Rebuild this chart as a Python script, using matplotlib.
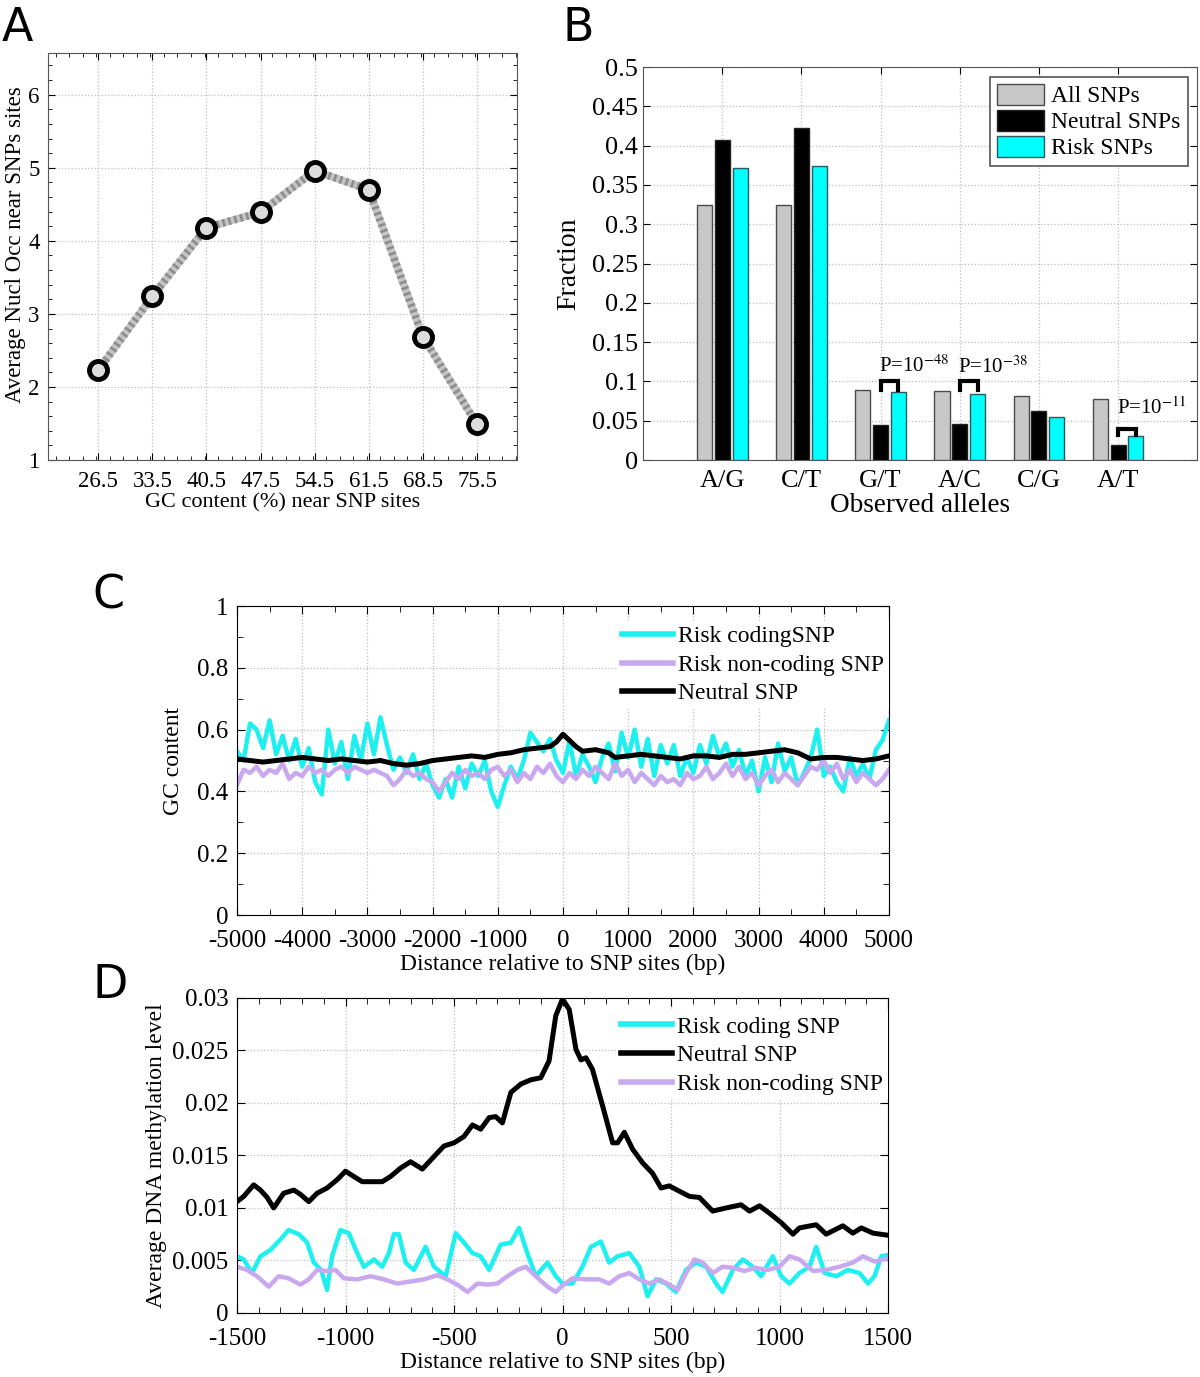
import numpy as np
import matplotlib
matplotlib.use('Agg')
import matplotlib.pyplot as plt
from matplotlib.ticker import MultipleLocator

plt.rcParams['font.family'] = 'serif'
plt.rcParams['font.serif'] = ['Liberation Serif', 'DejaVu Serif']
plt.rcParams['mathtext.fontset'] = 'stix'
plt.rcParams['axes.unicode_minus'] = False
plt.rcParams['xtick.direction'] = 'in'
plt.rcParams['ytick.direction'] = 'in'
plt.rcParams['xtick.top'] = True
plt.rcParams['ytick.right'] = True

# ---------------- panel A ----------------
gc_bins = [26.5, 33.5, 40.5, 47.5, 54.5, 61.5, 68.5, 75.5]
nucl_occ = [2.23, 3.24, 4.18, 4.39, 4.96, 4.70, 2.69, 1.49]

# ---------------- panel B ----------------
alleles = ['A/G', 'C/T', 'G/T', 'A/C', 'C/G', 'A/T']
frac_all = [0.325, 0.325, 0.089, 0.088, 0.081, 0.078]
frac_neutral = [0.407, 0.423, 0.045, 0.046, 0.062, 0.019]
frac_risk = [0.371, 0.374, 0.087, 0.084, 0.055, 0.031]
pvals = ['P=10$^{-48}$', 'P=10$^{-38}$', 'P=10$^{-11}$']

# ---------------- panel C ----------------
c_x = list(range(-5000, 5001, 100))
c_risk_coding = [0.53, 0.50, 0.62, 0.60, 0.54, 0.63, 0.52, 0.58, 0.50, 0.57,
                 0.48, 0.54, 0.43, 0.39, 0.60, 0.49, 0.56, 0.44, 0.58, 0.50,
                 0.62, 0.52, 0.64, 0.55, 0.47, 0.51, 0.46, 0.52, 0.44, 0.49,
                 0.42, 0.38, 0.44, 0.38, 0.48, 0.41, 0.49, 0.45, 0.50, 0.40,
                 0.35, 0.42, 0.48, 0.44, 0.50, 0.59, 0.56, 0.53, 0.57, 0.50,
                 0.46, 0.565, 0.45, 0.52, 0.48, 0.43, 0.51, 0.555, 0.465, 0.59,
                 0.51, 0.60, 0.48, 0.57, 0.45, 0.55, 0.49, 0.55, 0.45, 0.51,
                 0.46, 0.55, 0.49, 0.58, 0.51, 0.555, 0.48, 0.535, 0.45, 0.50,
                 0.40, 0.51, 0.43, 0.555, 0.465, 0.51, 0.42, 0.46, 0.51, 0.60,
                 0.45, 0.48, 0.43, 0.40, 0.51, 0.45, 0.49, 0.44, 0.535, 0.565,
                 0.63]
c_risk_noncoding = [0.42, 0.47, 0.46, 0.48, 0.45, 0.47, 0.46, 0.49, 0.44, 0.46,
                    0.45, 0.48, 0.46, 0.47, 0.45, 0.47, 0.48, 0.46, 0.48, 0.47,
                    0.46, 0.47, 0.46, 0.45, 0.42, 0.44, 0.47, 0.45, 0.46, 0.44,
                    0.43, 0.40, 0.43, 0.46, 0.44, 0.47, 0.45, 0.46, 0.44, 0.47,
                    0.48, 0.45, 0.47, 0.43, 0.46, 0.44, 0.48, 0.46, 0.49, 0.45,
                    0.43, 0.46, 0.44, 0.47, 0.45, 0.48, 0.46, 0.44, 0.49, 0.45,
                    0.47, 0.43, 0.46, 0.44, 0.42, 0.45, 0.43, 0.44, 0.42, 0.46,
                    0.44, 0.45, 0.48, 0.44, 0.46, 0.49, 0.45, 0.48, 0.44, 0.46,
                    0.42, 0.45, 0.47, 0.43, 0.46, 0.44, 0.42, 0.45, 0.48, 0.47,
                    0.50, 0.46, 0.49, 0.44, 0.47, 0.43, 0.46, 0.44, 0.42, 0.44,
                    0.47]
c_neutral_x = [-5000, -4800, -4600, -4400, -4200, -4000, -3800, -3600, -3400,
               -3200, -3000, -2800, -2600, -2400, -2200, -2000, -1800, -1600,
               -1400, -1200, -1000, -800, -600, -400, -200, -100, 0, 100, 200,
               300, 500, 700, 800, 1000, 1200, 1400, 1600, 1800, 2000, 2200,
               2400, 2600, 2800, 3000, 3200, 3400, 3600, 3800, 4000, 4200,
               4400, 4600, 4800, 5000]
c_neutral = [0.505, 0.50, 0.495, 0.50, 0.505, 0.51, 0.505, 0.50, 0.505,
             0.50, 0.495, 0.50, 0.49, 0.485, 0.49, 0.50, 0.505, 0.51,
             0.515, 0.51, 0.52, 0.525, 0.535, 0.54, 0.545, 0.56, 0.585, 0.565, 0.545,
             0.53, 0.535, 0.525, 0.51, 0.515, 0.52, 0.515, 0.51, 0.505, 0.515, 0.515,
             0.51, 0.52, 0.52, 0.525, 0.53, 0.535, 0.525, 0.505, 0.51, 0.51,
             0.505, 0.50, 0.505, 0.515]

# ---------------- panel D ----------------
d_neutral_x = [-1500, -1469, -1423, -1392, -1361, -1331, -1285, -1238, -1208,
               -1169, -1131, -1085, -1038, -1000, -962, -923, -869, -831, -792,
               -746, -700, -646, -592, -546, -500, -454, -415, -377, -338, -308,
               -277, -238, -192, -146, -100, -62, -31, 0, 31, 62, 85, 108, 138,
               185, 231, 254, 285, 323, 369, 415, 454, 492, 538, 585, 631, 692,
               754, 823, 862, 908, 954, 1008, 1062, 1092, 1169, 1215, 1292, 1338,
               1377, 1431, 1500]
d_neutral = [0.0106, 0.0111, 0.0122, 0.0117, 0.0110, 0.0100, 0.0114, 0.0117, 0.0113,
             0.0106, 0.0114, 0.0119, 0.0127, 0.0135, 0.0130, 0.0125, 0.0125, 0.0125, 0.0130,
             0.0138, 0.0144, 0.0137, 0.0149, 0.0159, 0.0162, 0.0168, 0.0179, 0.0175, 0.0186, 0.0187,
             0.0181, 0.0210, 0.0218, 0.0222, 0.0224, 0.0240, 0.0283, 0.0299, 0.0289, 0.0251, 0.0241, 0.0243, 0.0232,
             0.0197, 0.0162, 0.0162, 0.0172, 0.0156, 0.0143, 0.0133, 0.0119, 0.0121, 0.0116, 0.0111, 0.0110, 0.0097,
             0.0100, 0.0103, 0.0097, 0.0102, 0.0095, 0.0086, 0.0075, 0.0081, 0.0084, 0.0075, 0.0083, 0.0076,
             0.0081, 0.0076, 0.0074]
d_coding_x = [-1500, -1469, -1431, -1392, -1346, -1300, -1262, -1215, -1177, -1146,
              -1112, -1085, -1062, -1023, -985, -946, -915, -869, -831, -800, -777,
              -754, -723, -685, -631, -592, -538, -492, -454, -415, -377, -338, -285,
              -238, -200, -162, -123, -69, -31, 0, 46, 92, 131, 177, 215, 254, 308,
              354, 392, 431, 477, 523, 569, 615, 662, 708, 738, 785, 831, 877, 915,
              969, 1008, 1046, 1092, 1138, 1169, 1208, 1262, 1315, 1369, 1408, 1438,
              1469, 1500]
d_coding = [0.0054, 0.0051, 0.0038, 0.0054, 0.0060, 0.0070, 0.0079, 0.0075, 0.0067, 0.0048,
            0.0041, 0.0022, 0.0054, 0.0079, 0.0076, 0.0057, 0.0044, 0.0051, 0.0044, 0.0057, 0.0075,
            0.0075, 0.0048, 0.0041, 0.0063, 0.0044, 0.0035, 0.0076, 0.0067, 0.0057, 0.0054, 0.0041, 0.0065,
            0.0067, 0.0081, 0.0057, 0.0035, 0.0048, 0.0035, 0.0028, 0.0028, 0.0044, 0.0063, 0.0068, 0.0048, 0.0054, 0.0057,
            0.0044, 0.0016, 0.0032, 0.0028, 0.0020, 0.0041, 0.0048, 0.0044, 0.0028, 0.0020, 0.0041, 0.0051, 0.0044, 0.0035,
            0.0054, 0.0035, 0.0028, 0.0038, 0.0044, 0.0063, 0.0038, 0.0035, 0.0041, 0.0038, 0.0028, 0.0035,
            0.0054, 0.0055]
d_noncoding_x = [-1500, -1454, -1408, -1354, -1308, -1262, -1208, -1169, -1131, -1092,
                 -1046, -1008, -946, -885, -823, -762, -700, -638, -577, -531, -485,
                 -438, -392, -346, -300, -254, -208, -169, -123, -69, -31, 0, 46, 108,
                 169, 215, 262, 308, 354, 400, 446, 492, 531, 569, 608, 646, 692, 738,
                 785, 838, 892, 946, 1000, 1046, 1092, 1154, 1215, 1277, 1338, 1385,
                 1438, 1500]
d_noncoding = [0.0044, 0.0041, 0.0035, 0.0025, 0.0035, 0.0033, 0.0027, 0.0032, 0.0041, 0.0040,
               0.0041, 0.0033, 0.0032, 0.0035, 0.0032, 0.0028, 0.0030, 0.0032, 0.0036, 0.0032, 0.0027,
               0.0020, 0.0028, 0.0027, 0.0028, 0.0035, 0.0041, 0.0044, 0.0035, 0.0025, 0.0020, 0.0026, 0.0033, 0.0032,
               0.0032, 0.0028, 0.0035, 0.0038, 0.0032, 0.0028, 0.0032, 0.0027, 0.0022, 0.0038, 0.0051, 0.0048, 0.0038, 0.0044,
               0.0043, 0.0040, 0.0043, 0.0041, 0.0044, 0.0054, 0.0051, 0.0040, 0.0041, 0.0044, 0.0048, 0.0054,
               0.0049, 0.0052]

CYAN = '#1ef0f0'
LAV = '#c8a8ee'
GRID = dict(color='#bdbdbd', linestyle=':', linewidth=0.9)

fig = plt.figure(figsize=(12, 13.77), dpi=100)

# ======== A ========
axA = fig.add_axes([0.040, 0.6659, 0.391, 0.2956])
axA.plot(gc_bins, nucl_occ, color='#c4c4c4', lw=5.5, zorder=2)
axA.plot(gc_bins, nucl_occ, color='#8c8c8c', lw=5.5, dashes=(0.35, 0.45), zorder=2)
axA.plot(gc_bins, nucl_occ, 'o', ms=13, mew=3.5, mec='black', mfc='#dcdcdc', zorder=3)
axA.set_xlim(20, 80.7)
axA.set_ylim(1, 6.57)
axA.set_xticks(gc_bins)
axA.set_xticklabels([str(v) for v in gc_bins])
axA.set_yticks([1, 2, 3, 4, 5, 6])
axA.yaxis.set_minor_locator(MultipleLocator(0.2))
axA.xaxis.set_minor_locator(MultipleLocator(1.75))
axA.tick_params(labelsize=16.5, length=5)
axA.tick_params(axis='x', pad=8)
axA.tick_params(axis='y', pad=6)
axA.tick_params(which='minor', length=3)
axA.grid(True, **GRID)
axA.set_xlabel('GC content (%) near SNP sites', fontsize=16, labelpad=1)
axA.set_ylabel('Average Nucl Occ near SNPs sites', fontsize=16.5)
axA.yaxis.set_label_coords(-0.046, 0.53)
for s in axA.spines.values():
    s.set_color('#555555')

# ======== B ========
axB = fig.add_axes([0.536, 0.6659, 0.4617, 0.2854])
pos = np.arange(1, len(alleles) + 1)
w = 0.19
off = 0.225
axB.bar(pos - off, frac_all, w, color='#c8c8c8', edgecolor='#4a4a4a', lw=1, label='All SNPs', zorder=3)
axB.bar(pos, frac_neutral, w, color='black', edgecolor='#222222', lw=1, label='Neutral SNPs', zorder=3)
axB.bar(pos + off, frac_risk, w, color='#00ffff', edgecolor='#2a5a5a', lw=1, label='Risk SNPs', zorder=3)
axB.set_xlim(0, 7)
axB.set_ylim(0, 0.5)
axB.set_xticks(pos)
axB.set_xticklabels(alleles)
axB.set_yticks(np.arange(0, 0.51, 0.05))
axB.set_yticklabels(['0', '0.05', '0.1', '0.15', '0.2', '0.25', '0.3', '0.35', '0.4', '0.45', '0.5'])
axB.tick_params(labelsize=19, length=5)
axB.tick_params(axis='x', pad=7)
axB.grid(True, **GRID)
axB.set_axisbelow(True)
axB.set_xlabel('Observed alleles', fontsize=19.5, labelpad=1)
axB.set_ylabel('Fraction', fontsize=20, labelpad=8)
for s in axB.spines.values():
    s.set_color('#555555')

# significance brackets (neutral vs risk)
for k, (i, top, leg, ptxt_y) in enumerate([(2, 0.1, 0.089, 0.112), (3, 0.1, 0.089, 0.111), (5, 0.04, 0.032, 0.059)]):
    x0, x1 = pos[i], pos[i] + off
    axB.plot([x0, x0, x1, x1], [leg, top, top, leg], color='black', lw=3, zorder=4,
             solid_joinstyle='miter')
    axB.text(x0 - 0.02, ptxt_y, pvals[k], fontsize=15, ha='left', va='baseline')

legB = axB.legend(loc='upper right', fontsize=17, handlelength=2.0, handleheight=1.0,
                  handletextpad=0.3, labelspacing=0.1, borderpad=0.3,
                  borderaxespad=0.4, fancybox=False, framealpha=1)
legB.get_frame().set_edgecolor('#555555')
legB.get_frame().set_linewidth(1.2)

# ======== C ========
axC = fig.add_axes([0.1975, 0.3355, 0.5433, 0.2244])
axC.plot(c_x, c_risk_coding, color=CYAN, lw=3.2, label='Risk codingSNP')
axC.plot(c_x, c_risk_noncoding, color=LAV, lw=3.2, label='Risk non-coding SNP')
axC.plot(c_neutral_x, c_neutral, color='black', lw=3.6, label='Neutral SNP')
axC.set_xlim(-5000, 5000)
axC.set_ylim(0, 1)
axC.set_xticks(np.arange(-5000, 5001, 1000))
axC.set_yticks([0, 0.2, 0.4, 0.6, 0.8, 1])
axC.set_yticklabels(['0', '0.2', '0.4', '0.6', '0.8', '1'])
axC.xaxis.set_minor_locator(MultipleLocator(500))
axC.yaxis.set_minor_locator(MultipleLocator(0.1))
axC.tick_params(labelsize=18, length=6)
axC.tick_params(axis='x', pad=11)
axC.tick_params(axis='y', pad=6)
axC.tick_params(which='minor', length=4)
axC.grid(True, **GRID)
axC.set_xlabel('Distance relative to SNP sites (bp)', fontsize=17, labelpad=1)
axC.set_ylabel('GC content', fontsize=17, labelpad=10)
legC = axC.legend(loc='upper right', bbox_to_anchor=(1.018, 0.99), fontsize=17,
                  handlelength=2.2, handletextpad=0.2, labelspacing=0.3,
                  borderpad=0.2, fancybox=False, framealpha=1)
legC.get_frame().set_edgecolor('none')
for h in legC.get_lines():
    h.set_linewidth(4)

# ======== D ========
axD = fig.add_axes([0.1975, 0.0465, 0.5425, 0.2288])
axD.plot(d_coding_x, d_coding, color=CYAN, lw=3.2, label='Risk coding SNP')
axD.plot(d_neutral_x, d_neutral, color='black', lw=3.6, label='Neutral SNP')
axD.plot(d_noncoding_x, d_noncoding, color=LAV, lw=3.2, label='Risk non-coding SNP')
axD.set_xlim(-1500, 1500)
axD.set_ylim(0, 0.03)
axD.set_xticks(np.arange(-1500, 1501, 500))
axD.set_yticks([0, 0.005, 0.01, 0.015, 0.02, 0.025, 0.03])
axD.set_yticklabels(['0', '0.005', '0.01', '0.015', '0.02', '0.025', '0.03'])
axD.xaxis.set_minor_locator(MultipleLocator(100))
axD.tick_params(labelsize=18, length=6)
axD.tick_params(axis='x', pad=11)
axD.tick_params(axis='y', pad=6)
axD.tick_params(which='minor', length=4)
axD.grid(True, **GRID)
axD.set_xlabel('Distance relative to SNP sites (bp)', fontsize=17, labelpad=1)
axD.set_ylabel('Average DNA methylation level', fontsize=17, labelpad=4)
legD = axD.legend(loc='upper right', bbox_to_anchor=(1.018, 0.995), fontsize=17,
                  handlelength=2.2, handletextpad=0.2, labelspacing=0.3,
                  borderpad=0.2, fancybox=False, framealpha=1)
legD.get_frame().set_edgecolor('none')
for h in legD.get_lines():
    h.set_linewidth(4)

# panel letters
for lab, x, y in [('A', 0.001, 0.970), ('B', 0.469, 0.970), ('C', 0.077, 0.558), ('D', 0.077, 0.275)]:
    fig.text(x, y, lab, fontsize=33, family='DejaVu Sans', ha='left', va='baseline')

fig.savefig('out.png', dpi=100)
